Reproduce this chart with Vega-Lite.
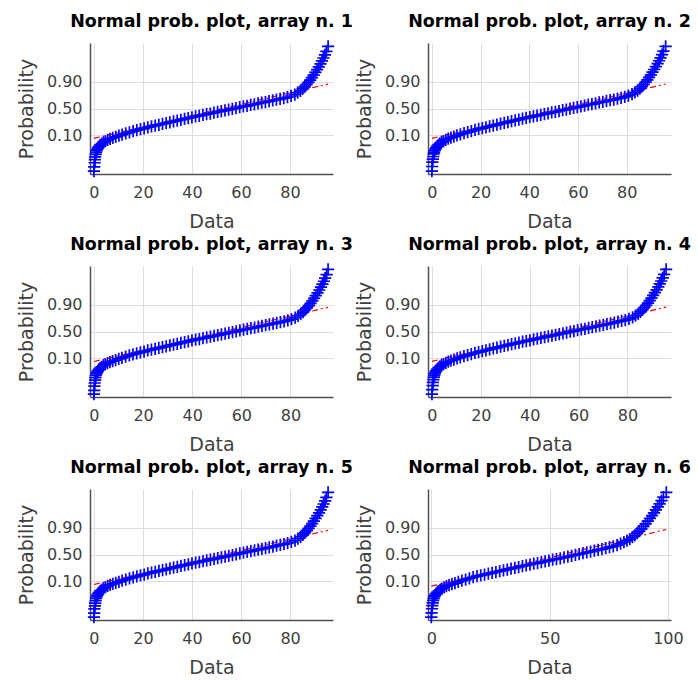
{
"$schema": "https://vega.github.io/schema/vega-lite/v6.json",
"background": "#ffffff",
"padding": {"left": 17, "top": 13, "right": 0, "bottom": 0},
"config": {
  "view": {"stroke": null},
  "font": "DejaVu Sans",
  "title": {"font": "DejaVu Sans", "fontSize": 17.5, "fontWeight": "bold", "color": "#000000", "offset": 6, "anchor": "middle"},
  "axis": {"labelFont": "DejaVu Sans", "labelFontSize": 16, "labelColor": "#404040", "titleFont": "DejaVu Sans", "titleFontSize": 19, "titleFontWeight": "normal", "titleColor": "#404040", "gridColor": "#dddddd", "gridWidth": 1, "domainColor": "#505050", "domainWidth": 1.5, "ticks": false, "labelFlush": false, "labelOverlap": false},
  "axisX": {"labelPadding": 10, "titlePadding": 12},
  "axisY": {"labelPadding": 8, "titlePadding": 10}
},
"datasets": {
"ln": [
{"p":1,"x":0,"z":-1.43},{"p":1,"x":95.6,"z":1.17},
{"p":2,"x":0,"z":-1.43},{"p":2,"x":96,"z":1.17},
{"p":3,"x":0,"z":-1.44},{"p":3,"x":95.3,"z":1.16},
{"p":4,"x":0,"z":-1.43},{"p":4,"x":95.8,"z":1.17},
{"p":5,"x":0,"z":-1.44},{"p":5,"x":95.5,"z":1.16},
{"p":6,"x":0,"z":-1.52},{"p":6,"x":99.3,"z":1.2}
],
"pts": [
{"p":1,"x":0,"z":-3},{"p":1,"x":0.1,"z":-2.8},{"p":1,"x":0.3,"z":-2.6},{"p":1,"x":0.4,"z":-2.45},{"p":1,"x":0.5,"z":-2.32},{"p":1,"x":0.7,"z":-2.2},{"p":1,"x":0.9,"z":-2.1},{"p":1,"x":1.1,"z":-2.02},{"p":1,"x":1.4,"z":-1.95},{"p":1,"x":1.7,"z":-1.88},{"p":1,"x":2.1,"z":-1.81},{"p":1,"x":2.6,"z":-1.74},{"p":1,"x":3.2,"z":-1.68},{"p":1,"x":3.9,"z":-1.62},{"p":1,"x":4.7,"z":-1.57},{"p":1,"x":5.6,"z":-1.51},{"p":1,"x":6.6,"z":-1.46},{"p":1,"x":7.7,"z":-1.41},{"p":1,"x":8.9,"z":-1.36},{"p":1,"x":10.2,"z":-1.3},{"p":1,"x":11.5,"z":-1.25},{"p":1,"x":13,"z":-1.19},{"p":1,"x":14.5,"z":-1.14},{"p":1,"x":16,"z":-1.09},{"p":1,"x":17.5,"z":-1.04},{"p":1,"x":19,"z":-0.99},{"p":1,"x":20.5,"z":-0.95},{"p":1,"x":22,"z":-0.9},{"p":1,"x":23.5,"z":-0.86},{"p":1,"x":25,"z":-0.82},{"p":1,"x":26.5,"z":-0.78},{"p":1,"x":28,"z":-0.74},{"p":1,"x":29.5,"z":-0.7},{"p":1,"x":31,"z":-0.66},{"p":1,"x":32.5,"z":-0.62},{"p":1,"x":34,"z":-0.58},{"p":1,"x":35.5,"z":-0.54},{"p":1,"x":37,"z":-0.5},{"p":1,"x":38.5,"z":-0.46},{"p":1,"x":40,"z":-0.42},{"p":1,"x":41.5,"z":-0.38},{"p":1,"x":43,"z":-0.35},{"p":1,"x":44.5,"z":-0.31},{"p":1,"x":46,"z":-0.27},{"p":1,"x":47.5,"z":-0.24},{"p":1,"x":49,"z":-0.2},{"p":1,"x":50.5,"z":-0.16},{"p":1,"x":52,"z":-0.13},{"p":1,"x":53.5,"z":-0.09},{"p":1,"x":55,"z":-0.05},{"p":1,"x":56.5,"z":-0.02},{"p":1,"x":58,"z":0.02},{"p":1,"x":59.5,"z":0.06},{"p":1,"x":61,"z":0.1},{"p":1,"x":62.5,"z":0.13},{"p":1,"x":64,"z":0.17},{"p":1,"x":65.5,"z":0.2},{"p":1,"x":67,"z":0.24},{"p":1,"x":68.5,"z":0.28},{"p":1,"x":70,"z":0.31},{"p":1,"x":71.5,"z":0.35},{"p":1,"x":73,"z":0.39},{"p":1,"x":74.5,"z":0.42},{"p":1,"x":76,"z":0.46},{"p":1,"x":77.5,"z":0.5},{"p":1,"x":79,"z":0.54},{"p":1,"x":80.5,"z":0.6},{"p":1,"x":82,"z":0.67},{"p":1,"x":83.2,"z":0.76},{"p":1,"x":84.3,"z":0.85},{"p":1,"x":85.2,"z":0.94},{"p":1,"x":86,"z":1.04},{"p":1,"x":86.8,"z":1.14},{"p":1,"x":87.6,"z":1.25},{"p":1,"x":88.3,"z":1.36},{"p":1,"x":89,"z":1.48},{"p":1,"x":89.7,"z":1.6},{"p":1,"x":90.4,"z":1.73},{"p":1,"x":91.1,"z":1.86},{"p":1,"x":91.8,"z":2},{"p":1,"x":92.5,"z":2.14},{"p":1,"x":93.1,"z":2.28},{"p":1,"x":93.7,"z":2.42},{"p":1,"x":94.3,"z":2.57},{"p":1,"x":94.9,"z":2.74},{"p":1,"x":95.6,"z":2.98},
{"p":2,"x":0,"z":-3},{"p":2,"x":0.1,"z":-2.78},{"p":2,"x":0.2,"z":-2.57},{"p":2,"x":0.4,"z":-2.43},{"p":2,"x":0.6,"z":-2.3},{"p":2,"x":0.7,"z":-2.18},{"p":2,"x":0.9,"z":-2.09},{"p":2,"x":1.2,"z":-2.01},{"p":2,"x":1.5,"z":-1.94},{"p":2,"x":1.8,"z":-1.87},{"p":2,"x":2.2,"z":-1.8},{"p":2,"x":2.7,"z":-1.73},{"p":2,"x":3.3,"z":-1.67},{"p":2,"x":4,"z":-1.61},{"p":2,"x":4.8,"z":-1.56},{"p":2,"x":5.7,"z":-1.5},{"p":2,"x":6.7,"z":-1.45},{"p":2,"x":7.8,"z":-1.4},{"p":2,"x":9,"z":-1.35},{"p":2,"x":10.3,"z":-1.29},{"p":2,"x":11.7,"z":-1.24},{"p":2,"x":13.2,"z":-1.18},{"p":2,"x":14.7,"z":-1.13},{"p":2,"x":16.2,"z":-1.08},{"p":2,"x":17.7,"z":-1.03},{"p":2,"x":19.2,"z":-0.98},{"p":2,"x":20.7,"z":-0.94},{"p":2,"x":22.2,"z":-0.9},{"p":2,"x":23.7,"z":-0.86},{"p":2,"x":25.2,"z":-0.82},{"p":2,"x":26.7,"z":-0.77},{"p":2,"x":28.2,"z":-0.73},{"p":2,"x":29.7,"z":-0.69},{"p":2,"x":31.2,"z":-0.65},{"p":2,"x":32.7,"z":-0.61},{"p":2,"x":34.2,"z":-0.57},{"p":2,"x":35.7,"z":-0.53},{"p":2,"x":37.2,"z":-0.49},{"p":2,"x":38.7,"z":-0.45},{"p":2,"x":40.2,"z":-0.41},{"p":2,"x":41.7,"z":-0.38},{"p":2,"x":43.2,"z":-0.34},{"p":2,"x":44.7,"z":-0.3},{"p":2,"x":46.2,"z":-0.27},{"p":2,"x":47.7,"z":-0.23},{"p":2,"x":49.2,"z":-0.19},{"p":2,"x":50.7,"z":-0.16},{"p":2,"x":52.2,"z":-0.12},{"p":2,"x":53.7,"z":-0.08},{"p":2,"x":55.2,"z":-0.05},{"p":2,"x":56.7,"z":-0.01},{"p":2,"x":58.2,"z":0.03},{"p":2,"x":59.7,"z":0.07},{"p":2,"x":61.2,"z":0.1},{"p":2,"x":62.7,"z":0.14},{"p":2,"x":64.2,"z":0.18},{"p":2,"x":65.7,"z":0.21},{"p":2,"x":67.2,"z":0.25},{"p":2,"x":68.7,"z":0.29},{"p":2,"x":70.2,"z":0.32},{"p":2,"x":71.7,"z":0.36},{"p":2,"x":73.2,"z":0.4},{"p":2,"x":74.7,"z":0.43},{"p":2,"x":76.2,"z":0.47},{"p":2,"x":77.7,"z":0.51},{"p":2,"x":79.2,"z":0.56},{"p":2,"x":80.7,"z":0.62},{"p":2,"x":82.2,"z":0.69},{"p":2,"x":83.4,"z":0.77},{"p":2,"x":84.5,"z":0.86},{"p":2,"x":85.4,"z":0.95},{"p":2,"x":86.2,"z":1.05},{"p":2,"x":87,"z":1.15},{"p":2,"x":87.8,"z":1.26},{"p":2,"x":88.5,"z":1.37},{"p":2,"x":89.2,"z":1.49},{"p":2,"x":89.9,"z":1.61},{"p":2,"x":90.6,"z":1.74},{"p":2,"x":91.3,"z":1.87},{"p":2,"x":92,"z":2.01},{"p":2,"x":92.7,"z":2.15},{"p":2,"x":93.3,"z":2.29},{"p":2,"x":93.9,"z":2.43},{"p":2,"x":94.5,"z":2.58},{"p":2,"x":95.1,"z":2.75},{"p":2,"x":96,"z":2.98},
{"p":3,"x":0,"z":-3},{"p":3,"x":0.1,"z":-2.82},{"p":3,"x":0.2,"z":-2.62},{"p":3,"x":0.3,"z":-2.47},{"p":3,"x":0.5,"z":-2.33},{"p":3,"x":0.6,"z":-2.21},{"p":3,"x":0.8,"z":-2.11},{"p":3,"x":1,"z":-2.03},{"p":3,"x":1.3,"z":-1.96},{"p":3,"x":1.6,"z":-1.89},{"p":3,"x":2,"z":-1.82},{"p":3,"x":2.5,"z":-1.75},{"p":3,"x":3.1,"z":-1.69},{"p":3,"x":3.8,"z":-1.63},{"p":3,"x":4.6,"z":-1.58},{"p":3,"x":5.5,"z":-1.52},{"p":3,"x":6.5,"z":-1.47},{"p":3,"x":7.6,"z":-1.42},{"p":3,"x":8.8,"z":-1.37},{"p":3,"x":10.1,"z":-1.31},{"p":3,"x":11.4,"z":-1.26},{"p":3,"x":12.9,"z":-1.2},{"p":3,"x":14.4,"z":-1.15},{"p":3,"x":15.9,"z":-1.1},{"p":3,"x":17.4,"z":-1.05},{"p":3,"x":18.9,"z":-1},{"p":3,"x":20.4,"z":-0.96},{"p":3,"x":21.9,"z":-0.91},{"p":3,"x":23.4,"z":-0.87},{"p":3,"x":24.9,"z":-0.83},{"p":3,"x":26.4,"z":-0.79},{"p":3,"x":27.9,"z":-0.75},{"p":3,"x":29.4,"z":-0.71},{"p":3,"x":30.9,"z":-0.67},{"p":3,"x":32.4,"z":-0.63},{"p":3,"x":33.9,"z":-0.59},{"p":3,"x":35.4,"z":-0.55},{"p":3,"x":36.9,"z":-0.51},{"p":3,"x":38.4,"z":-0.47},{"p":3,"x":39.9,"z":-0.43},{"p":3,"x":41.4,"z":-0.39},{"p":3,"x":42.9,"z":-0.36},{"p":3,"x":44.4,"z":-0.32},{"p":3,"x":45.9,"z":-0.28},{"p":3,"x":47.4,"z":-0.25},{"p":3,"x":48.9,"z":-0.21},{"p":3,"x":50.4,"z":-0.17},{"p":3,"x":51.9,"z":-0.14},{"p":3,"x":53.4,"z":-0.1},{"p":3,"x":54.9,"z":-0.06},{"p":3,"x":56.4,"z":-0.03},{"p":3,"x":57.9,"z":0.01},{"p":3,"x":59.4,"z":0.05},{"p":3,"x":60.9,"z":0.09},{"p":3,"x":62.4,"z":0.12},{"p":3,"x":63.9,"z":0.16},{"p":3,"x":65.4,"z":0.19},{"p":3,"x":66.9,"z":0.23},{"p":3,"x":68.4,"z":0.27},{"p":3,"x":69.9,"z":0.3},{"p":3,"x":71.4,"z":0.34},{"p":3,"x":72.9,"z":0.38},{"p":3,"x":74.4,"z":0.41},{"p":3,"x":75.9,"z":0.45},{"p":3,"x":77.4,"z":0.49},{"p":3,"x":78.9,"z":0.53},{"p":3,"x":80.4,"z":0.59},{"p":3,"x":81.9,"z":0.66},{"p":3,"x":83.1,"z":0.75},{"p":3,"x":84.2,"z":0.84},{"p":3,"x":85.1,"z":0.93},{"p":3,"x":85.9,"z":1.03},{"p":3,"x":86.7,"z":1.13},{"p":3,"x":87.5,"z":1.24},{"p":3,"x":88.2,"z":1.35},{"p":3,"x":88.9,"z":1.47},{"p":3,"x":89.6,"z":1.59},{"p":3,"x":90.3,"z":1.72},{"p":3,"x":91,"z":1.85},{"p":3,"x":91.7,"z":1.99},{"p":3,"x":92.4,"z":2.13},{"p":3,"x":93,"z":2.27},{"p":3,"x":93.6,"z":2.41},{"p":3,"x":94.1,"z":2.56},{"p":3,"x":94.7,"z":2.73},{"p":3,"x":95.3,"z":2.98},
{"p":4,"x":0,"z":-3},{"p":4,"x":0.1,"z":-2.79},{"p":4,"x":0.3,"z":-2.59},{"p":4,"x":0.4,"z":-2.44},{"p":4,"x":0.6,"z":-2.31},{"p":4,"x":0.8,"z":-2.19},{"p":4,"x":1,"z":-2.09},{"p":4,"x":1.2,"z":-2.01},{"p":4,"x":1.5,"z":-1.94},{"p":4,"x":1.8,"z":-1.87},{"p":4,"x":2.2,"z":-1.8},{"p":4,"x":2.7,"z":-1.73},{"p":4,"x":3.3,"z":-1.67},{"p":4,"x":4,"z":-1.61},{"p":4,"x":4.8,"z":-1.56},{"p":4,"x":5.7,"z":-1.5},{"p":4,"x":6.7,"z":-1.45},{"p":4,"x":7.8,"z":-1.4},{"p":4,"x":9,"z":-1.35},{"p":4,"x":10.3,"z":-1.29},{"p":4,"x":11.6,"z":-1.24},{"p":4,"x":13.1,"z":-1.18},{"p":4,"x":14.6,"z":-1.13},{"p":4,"x":16.1,"z":-1.08},{"p":4,"x":17.6,"z":-1.03},{"p":4,"x":19.1,"z":-0.99},{"p":4,"x":20.6,"z":-0.94},{"p":4,"x":22.1,"z":-0.9},{"p":4,"x":23.6,"z":-0.86},{"p":4,"x":25.1,"z":-0.81},{"p":4,"x":26.6,"z":-0.77},{"p":4,"x":28.1,"z":-0.73},{"p":4,"x":29.6,"z":-0.69},{"p":4,"x":31.1,"z":-0.65},{"p":4,"x":32.6,"z":-0.61},{"p":4,"x":34.1,"z":-0.57},{"p":4,"x":35.6,"z":-0.53},{"p":4,"x":37.1,"z":-0.49},{"p":4,"x":38.6,"z":-0.46},{"p":4,"x":40.1,"z":-0.42},{"p":4,"x":41.6,"z":-0.38},{"p":4,"x":43.1,"z":-0.34},{"p":4,"x":44.6,"z":-0.31},{"p":4,"x":46.1,"z":-0.27},{"p":4,"x":47.6,"z":-0.23},{"p":4,"x":49.1,"z":-0.2},{"p":4,"x":50.6,"z":-0.16},{"p":4,"x":52.1,"z":-0.12},{"p":4,"x":53.6,"z":-0.09},{"p":4,"x":55.1,"z":-0.05},{"p":4,"x":56.6,"z":-0.01},{"p":4,"x":58.1,"z":0.02},{"p":4,"x":59.6,"z":0.06},{"p":4,"x":61.1,"z":0.1},{"p":4,"x":62.6,"z":0.13},{"p":4,"x":64.1,"z":0.17},{"p":4,"x":65.6,"z":0.21},{"p":4,"x":67.1,"z":0.24},{"p":4,"x":68.6,"z":0.28},{"p":4,"x":70.1,"z":0.32},{"p":4,"x":71.6,"z":0.35},{"p":4,"x":73.1,"z":0.39},{"p":4,"x":74.6,"z":0.43},{"p":4,"x":76.1,"z":0.47},{"p":4,"x":77.6,"z":0.51},{"p":4,"x":79.1,"z":0.55},{"p":4,"x":80.6,"z":0.61},{"p":4,"x":82.1,"z":0.68},{"p":4,"x":83.3,"z":0.76},{"p":4,"x":84.4,"z":0.85},{"p":4,"x":85.3,"z":0.94},{"p":4,"x":86.1,"z":1.04},{"p":4,"x":86.9,"z":1.14},{"p":4,"x":87.7,"z":1.25},{"p":4,"x":88.4,"z":1.36},{"p":4,"x":89.1,"z":1.48},{"p":4,"x":89.8,"z":1.6},{"p":4,"x":90.5,"z":1.73},{"p":4,"x":91.2,"z":1.86},{"p":4,"x":91.9,"z":2},{"p":4,"x":92.6,"z":2.14},{"p":4,"x":93.2,"z":2.28},{"p":4,"x":93.8,"z":2.42},{"p":4,"x":94.4,"z":2.57},{"p":4,"x":95,"z":2.74},{"p":4,"x":95.8,"z":2.98},
{"p":5,"x":0,"z":-3},{"p":5,"x":0.1,"z":-2.81},{"p":5,"x":0.2,"z":-2.61},{"p":5,"x":0.4,"z":-2.46},{"p":5,"x":0.5,"z":-2.33},{"p":5,"x":0.7,"z":-2.21},{"p":5,"x":0.9,"z":-2.1},{"p":5,"x":1.1,"z":-2.02},{"p":5,"x":1.4,"z":-1.95},{"p":5,"x":1.7,"z":-1.88},{"p":5,"x":2.1,"z":-1.81},{"p":5,"x":2.6,"z":-1.74},{"p":5,"x":3.2,"z":-1.68},{"p":5,"x":3.9,"z":-1.62},{"p":5,"x":4.7,"z":-1.57},{"p":5,"x":5.6,"z":-1.51},{"p":5,"x":6.6,"z":-1.46},{"p":5,"x":7.7,"z":-1.41},{"p":5,"x":8.9,"z":-1.36},{"p":5,"x":10.2,"z":-1.31},{"p":5,"x":11.5,"z":-1.25},{"p":5,"x":13,"z":-1.2},{"p":5,"x":14.5,"z":-1.15},{"p":5,"x":16,"z":-1.1},{"p":5,"x":17.5,"z":-1.05},{"p":5,"x":19,"z":-1},{"p":5,"x":20.5,"z":-0.96},{"p":5,"x":22,"z":-0.91},{"p":5,"x":23.5,"z":-0.87},{"p":5,"x":25,"z":-0.83},{"p":5,"x":26.5,"z":-0.79},{"p":5,"x":28,"z":-0.75},{"p":5,"x":29.5,"z":-0.71},{"p":5,"x":31,"z":-0.67},{"p":5,"x":32.5,"z":-0.63},{"p":5,"x":34,"z":-0.59},{"p":5,"x":35.5,"z":-0.55},{"p":5,"x":37,"z":-0.51},{"p":5,"x":38.5,"z":-0.47},{"p":5,"x":40,"z":-0.43},{"p":5,"x":41.5,"z":-0.39},{"p":5,"x":43,"z":-0.36},{"p":5,"x":44.5,"z":-0.32},{"p":5,"x":46,"z":-0.28},{"p":5,"x":47.5,"z":-0.25},{"p":5,"x":49,"z":-0.21},{"p":5,"x":50.5,"z":-0.17},{"p":5,"x":52,"z":-0.14},{"p":5,"x":53.5,"z":-0.1},{"p":5,"x":55,"z":-0.06},{"p":5,"x":56.5,"z":-0.03},{"p":5,"x":58,"z":0.01},{"p":5,"x":59.5,"z":0.05},{"p":5,"x":61,"z":0.09},{"p":5,"x":62.5,"z":0.12},{"p":5,"x":64,"z":0.16},{"p":5,"x":65.5,"z":0.2},{"p":5,"x":67,"z":0.23},{"p":5,"x":68.5,"z":0.27},{"p":5,"x":70,"z":0.31},{"p":5,"x":71.5,"z":0.34},{"p":5,"x":73,"z":0.38},{"p":5,"x":74.5,"z":0.42},{"p":5,"x":76,"z":0.46},{"p":5,"x":77.5,"z":0.5},{"p":5,"x":79,"z":0.54},{"p":5,"x":80.5,"z":0.6},{"p":5,"x":82,"z":0.67},{"p":5,"x":83.2,"z":0.76},{"p":5,"x":84.3,"z":0.85},{"p":5,"x":85.2,"z":0.94},{"p":5,"x":86,"z":1.04},{"p":5,"x":86.8,"z":1.14},{"p":5,"x":87.6,"z":1.25},{"p":5,"x":88.3,"z":1.36},{"p":5,"x":89,"z":1.48},{"p":5,"x":89.7,"z":1.6},{"p":5,"x":90.4,"z":1.73},{"p":5,"x":91.1,"z":1.86},{"p":5,"x":91.8,"z":2},{"p":5,"x":92.5,"z":2.14},{"p":5,"x":93.1,"z":2.28},{"p":5,"x":93.7,"z":2.42},{"p":5,"x":94.3,"z":2.57},{"p":5,"x":94.8,"z":2.74},{"p":5,"x":95.5,"z":2.98},
{"p":6,"x":0,"z":-3},{"p":6,"x":0.1,"z":-2.8},{"p":6,"x":0.3,"z":-2.6},{"p":6,"x":0.4,"z":-2.45},{"p":6,"x":0.6,"z":-2.32},{"p":6,"x":0.8,"z":-2.2},{"p":6,"x":1,"z":-2.1},{"p":6,"x":1.3,"z":-2.02},{"p":6,"x":1.6,"z":-1.95},{"p":6,"x":2,"z":-1.88},{"p":6,"x":2.5,"z":-1.81},{"p":6,"x":3,"z":-1.75},{"p":6,"x":3.7,"z":-1.69},{"p":6,"x":4.5,"z":-1.63},{"p":6,"x":5.4,"z":-1.58},{"p":6,"x":6.4,"z":-1.52},{"p":6,"x":7.5,"z":-1.47},{"p":6,"x":8.7,"z":-1.42},{"p":6,"x":10,"z":-1.37},{"p":6,"x":11.4,"z":-1.31},{"p":6,"x":12.9,"z":-1.25},{"p":6,"x":14.5,"z":-1.2},{"p":6,"x":16.1,"z":-1.14},{"p":6,"x":17.7,"z":-1.09},{"p":6,"x":19.3,"z":-1.04},{"p":6,"x":20.9,"z":-1},{"p":6,"x":22.5,"z":-0.96},{"p":6,"x":24.1,"z":-0.92},{"p":6,"x":25.7,"z":-0.88},{"p":6,"x":27.3,"z":-0.84},{"p":6,"x":28.9,"z":-0.8},{"p":6,"x":30.5,"z":-0.76},{"p":6,"x":32.1,"z":-0.72},{"p":6,"x":33.7,"z":-0.68},{"p":6,"x":35.3,"z":-0.64},{"p":6,"x":36.9,"z":-0.6},{"p":6,"x":38.5,"z":-0.56},{"p":6,"x":40.1,"z":-0.52},{"p":6,"x":41.7,"z":-0.48},{"p":6,"x":43.3,"z":-0.44},{"p":6,"x":44.9,"z":-0.41},{"p":6,"x":46.5,"z":-0.37},{"p":6,"x":48.1,"z":-0.33},{"p":6,"x":49.7,"z":-0.29},{"p":6,"x":51.3,"z":-0.25},{"p":6,"x":52.9,"z":-0.22},{"p":6,"x":54.5,"z":-0.18},{"p":6,"x":56.1,"z":-0.14},{"p":6,"x":57.7,"z":-0.1},{"p":6,"x":59.3,"z":-0.06},{"p":6,"x":60.9,"z":-0.02},{"p":6,"x":62.5,"z":0.02},{"p":6,"x":64.1,"z":0.06},{"p":6,"x":65.7,"z":0.1},{"p":6,"x":67.3,"z":0.14},{"p":6,"x":68.9,"z":0.18},{"p":6,"x":70.5,"z":0.22},{"p":6,"x":72.1,"z":0.26},{"p":6,"x":73.7,"z":0.3},{"p":6,"x":75.3,"z":0.35},{"p":6,"x":76.9,"z":0.39},{"p":6,"x":78.5,"z":0.45},{"p":6,"x":80,"z":0.52},{"p":6,"x":81.4,"z":0.59},{"p":6,"x":82.7,"z":0.66},{"p":6,"x":83.9,"z":0.74},{"p":6,"x":85,"z":0.83},{"p":6,"x":86,"z":0.92},{"p":6,"x":87,"z":1.02},{"p":6,"x":87.9,"z":1.12},{"p":6,"x":88.8,"z":1.23},{"p":6,"x":89.7,"z":1.35},{"p":6,"x":90.6,"z":1.47},{"p":6,"x":91.5,"z":1.6},{"p":6,"x":92.4,"z":1.73},{"p":6,"x":93.3,"z":1.86},{"p":6,"x":94.1,"z":2},{"p":6,"x":94.9,"z":2.14},{"p":6,"x":95.7,"z":2.28},{"p":6,"x":96.5,"z":2.43},{"p":6,"x":97.3,"z":2.58},{"p":6,"x":98.1,"z":2.75},{"p":6,"x":99.3,"z":2.98}
]
},
"columns": 2,
"spacing": {"row": 92, "column": 95},
"bounds": "flush",
"concat": [
{"title": "Normal prob. plot, array n. 1", "width": 243, "height": 131, "layer": [
 {"data": {"name": "ln"}, "transform": [{"filter": "datum.p == 1"}], "mark": {"type": "line", "color": "#ff0000", "strokeDash": [6, 3, 2, 3], "strokeWidth": 1.2},
  "encoding": {"x": {"field": "x", "type": "quantitative", "scale": {"domain": [-1.6, 97.6], "nice": false, "zero": false}, "axis": {"title": "Data", "values": [0, 20, 40, 60, 80]}},
   "y": {"field": "z", "type": "quantitative", "scale": {"domain": [-3.14, 3.14], "nice": false, "zero": false}, "axis": {"title": "Probability", "values": [-1.2816, 0, 1.2816], "labelExpr": "datum.value < -1 ? '0.10' : (datum.value > 1 ? '0.90' : '0.50')"}}}},
 {"data": {"name": "pts"}, "transform": [{"filter": "datum.p == 1"}], "mark": {"type": "point", "shape": "M-1,0L1,0M0,-1L0,1", "filled": false, "stroke": "#0000ff", "strokeWidth": 1.7, "size": 150, "opacity": 1},
  "encoding": {"x": {"field": "x", "type": "quantitative"}, "y": {"field": "z", "type": "quantitative"}}}
]},
{"title": "Normal prob. plot, array n. 2", "width": 243, "height": 131, "layer": [
 {"data": {"name": "ln"}, "transform": [{"filter": "datum.p == 2"}], "mark": {"type": "line", "color": "#ff0000", "strokeDash": [6, 3, 2, 3], "strokeWidth": 1.2},
  "encoding": {"x": {"field": "x", "type": "quantitative", "scale": {"domain": [-1.6, 98.2], "nice": false, "zero": false}, "axis": {"title": "Data", "values": [0, 20, 40, 60, 80]}},
   "y": {"field": "z", "type": "quantitative", "scale": {"domain": [-3.14, 3.14], "nice": false, "zero": false}, "axis": {"title": "Probability", "values": [-1.2816, 0, 1.2816], "labelExpr": "datum.value < -1 ? '0.10' : (datum.value > 1 ? '0.90' : '0.50')"}}}},
 {"data": {"name": "pts"}, "transform": [{"filter": "datum.p == 2"}], "mark": {"type": "point", "shape": "M-1,0L1,0M0,-1L0,1", "filled": false, "stroke": "#0000ff", "strokeWidth": 1.7, "size": 150, "opacity": 1},
  "encoding": {"x": {"field": "x", "type": "quantitative"}, "y": {"field": "z", "type": "quantitative"}}}
]},
{"title": "Normal prob. plot, array n. 3", "width": 243, "height": 131, "layer": [
 {"data": {"name": "ln"}, "transform": [{"filter": "datum.p == 3"}], "mark": {"type": "line", "color": "#ff0000", "strokeDash": [6, 3, 2, 3], "strokeWidth": 1.2},
  "encoding": {"x": {"field": "x", "type": "quantitative", "scale": {"domain": [-1.6, 97.3], "nice": false, "zero": false}, "axis": {"title": "Data", "values": [0, 20, 40, 60, 80]}},
   "y": {"field": "z", "type": "quantitative", "scale": {"domain": [-3.14, 3.14], "nice": false, "zero": false}, "axis": {"title": "Probability", "values": [-1.2816, 0, 1.2816], "labelExpr": "datum.value < -1 ? '0.10' : (datum.value > 1 ? '0.90' : '0.50')"}}}},
 {"data": {"name": "pts"}, "transform": [{"filter": "datum.p == 3"}], "mark": {"type": "point", "shape": "M-1,0L1,0M0,-1L0,1", "filled": false, "stroke": "#0000ff", "strokeWidth": 1.7, "size": 150, "opacity": 1},
  "encoding": {"x": {"field": "x", "type": "quantitative"}, "y": {"field": "z", "type": "quantitative"}}}
]},
{"title": "Normal prob. plot, array n. 4", "width": 243, "height": 131, "layer": [
 {"data": {"name": "ln"}, "transform": [{"filter": "datum.p == 4"}], "mark": {"type": "line", "color": "#ff0000", "strokeDash": [6, 3, 2, 3], "strokeWidth": 1.2},
  "encoding": {"x": {"field": "x", "type": "quantitative", "scale": {"domain": [-1.6, 97.8], "nice": false, "zero": false}, "axis": {"title": "Data", "values": [0, 20, 40, 60, 80]}},
   "y": {"field": "z", "type": "quantitative", "scale": {"domain": [-3.14, 3.14], "nice": false, "zero": false}, "axis": {"title": "Probability", "values": [-1.2816, 0, 1.2816], "labelExpr": "datum.value < -1 ? '0.10' : (datum.value > 1 ? '0.90' : '0.50')"}}}},
 {"data": {"name": "pts"}, "transform": [{"filter": "datum.p == 4"}], "mark": {"type": "point", "shape": "M-1,0L1,0M0,-1L0,1", "filled": false, "stroke": "#0000ff", "strokeWidth": 1.7, "size": 150, "opacity": 1},
  "encoding": {"x": {"field": "x", "type": "quantitative"}, "y": {"field": "z", "type": "quantitative"}}}
]},
{"title": "Normal prob. plot, array n. 5", "width": 243, "height": 131, "layer": [
 {"data": {"name": "ln"}, "transform": [{"filter": "datum.p == 5"}], "mark": {"type": "line", "color": "#ff0000", "strokeDash": [6, 3, 2, 3], "strokeWidth": 1.2},
  "encoding": {"x": {"field": "x", "type": "quantitative", "scale": {"domain": [-1.6, 97.5], "nice": false, "zero": false}, "axis": {"title": "Data", "values": [0, 20, 40, 60, 80]}},
   "y": {"field": "z", "type": "quantitative", "scale": {"domain": [-3.14, 3.14], "nice": false, "zero": false}, "axis": {"title": "Probability", "values": [-1.2816, 0, 1.2816], "labelExpr": "datum.value < -1 ? '0.10' : (datum.value > 1 ? '0.90' : '0.50')"}}}},
 {"data": {"name": "pts"}, "transform": [{"filter": "datum.p == 5"}], "mark": {"type": "point", "shape": "M-1,0L1,0M0,-1L0,1", "filled": false, "stroke": "#0000ff", "strokeWidth": 1.7, "size": 150, "opacity": 1},
  "encoding": {"x": {"field": "x", "type": "quantitative"}, "y": {"field": "z", "type": "quantitative"}}}
]},
{"title": "Normal prob. plot, array n. 6", "width": 243, "height": 131, "layer": [
 {"data": {"name": "ln"}, "transform": [{"filter": "datum.p == 6"}], "mark": {"type": "line", "color": "#ff0000", "strokeDash": [6, 3, 2, 3], "strokeWidth": 1.2},
  "encoding": {"x": {"field": "x", "type": "quantitative", "scale": {"domain": [-1.4, 101.3], "nice": false, "zero": false}, "axis": {"title": "Data", "values": [0, 50, 100]}},
   "y": {"field": "z", "type": "quantitative", "scale": {"domain": [-3.14, 3.14], "nice": false, "zero": false}, "axis": {"title": "Probability", "values": [-1.2816, 0, 1.2816], "labelExpr": "datum.value < -1 ? '0.10' : (datum.value > 1 ? '0.90' : '0.50')"}}}},
 {"data": {"name": "pts"}, "transform": [{"filter": "datum.p == 6"}], "mark": {"type": "point", "shape": "M-1,0L1,0M0,-1L0,1", "filled": false, "stroke": "#0000ff", "strokeWidth": 1.7, "size": 150, "opacity": 1},
  "encoding": {"x": {"field": "x", "type": "quantitative"}, "y": {"field": "z", "type": "quantitative"}}}
]}
]
}
